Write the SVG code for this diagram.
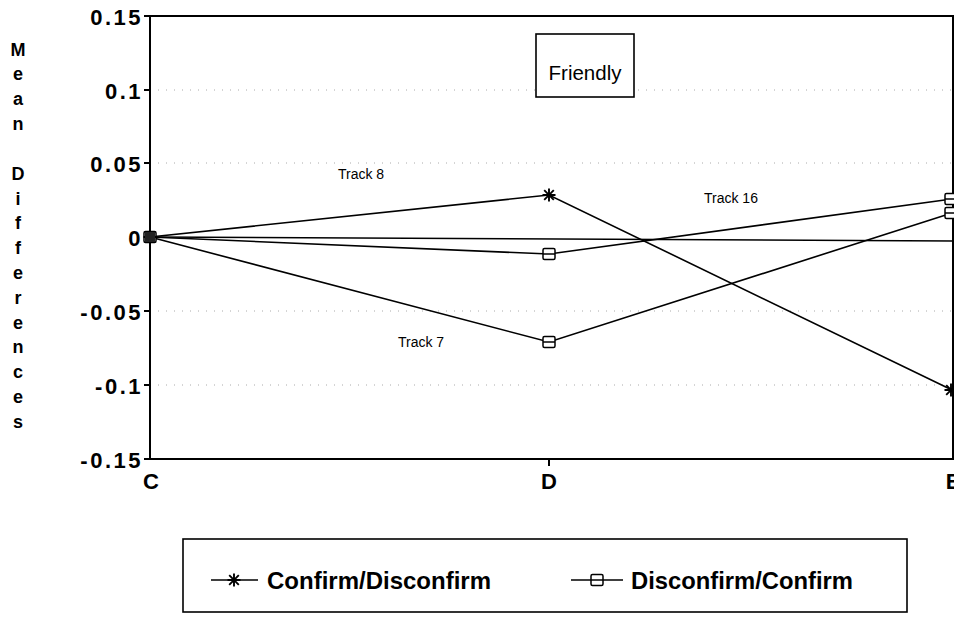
<svg xmlns="http://www.w3.org/2000/svg" width="954" height="617" viewBox="0 0 954 617">
<style>
.ax{fill:none;stroke:#000;stroke-width:2}
.grid{stroke:#aaa;stroke-width:1;stroke-dasharray:1 7}
.ln{fill:none;stroke:#000;stroke-width:1.6}
.tk{font-family:"Liberation Sans",Arial,sans-serif;font-weight:bold;font-size:22px;letter-spacing:2.5px;text-anchor:end}
.xl{font-family:"Liberation Sans",Arial,sans-serif;font-weight:bold;font-size:22px;text-anchor:middle}
.yt{font-family:"Liberation Sans",Arial,sans-serif;font-weight:bold;font-size:18px;text-anchor:middle}
.lbl{font-family:"Liberation Sans",Arial,sans-serif;font-size:14px}
.lg{font-family:"Liberation Sans",Arial,sans-serif;font-weight:bold;font-size:24px}
.sq{fill:#fff;stroke:#000;stroke-width:1.5}
</style>
<defs>
<g id="star"><path d="M-6.5,0H6.5M0,-6.5V6.5M-4.8,-4.8L4.8,4.8M-4.8,4.8L4.8,-4.8" stroke="#000" stroke-width="1.9" fill="none"/></g>
<g id="box"><rect x="-6" y="-5.5" width="12" height="11" rx="1.5" class="sq"/><path d="M-6,0H6" stroke="#000" stroke-width="1.5"/></g>
</defs>
<g id="grid">
<path class="grid" d="M150,90H953M150,163H953M150,311H953M150,385H953"/>
</g>
<g id="axes">
<path class="ax" d="M150,16H953V459H150Z"/>
<path class="ax" d="M144,16H150M144,90H150M144,163H150M144,237H150M144,311H150M144,385H150M144,459H150M549,459V466"/>
</g>
<g id="ticklabels">
<text class="tk" x="143" y="25">0.15</text>
<text class="tk" x="143" y="99">0.1</text>
<text class="tk" x="143" y="172">0.05</text>
<text class="tk" x="143" y="246">0</text>
<text class="tk" x="143" y="320">-0.05</text>
<text class="tk" x="143" y="394">-0.1</text>
<text class="tk" x="143" y="468">-0.15</text>
<text class="xl" x="151" y="489">C</text>
<text class="xl" x="549" y="489">D</text>
<text class="xl" x="953" y="489">E</text>
</g>
<g id="ytitle">
<text class="yt" x="18" y="56">M</text>
<text class="yt" x="18" y="80">e</text>
<text class="yt" x="18" y="105">a</text>
<text class="yt" x="18" y="130">n</text>
<text class="yt" x="18" y="180">D</text>
<text class="yt" x="18" y="205">i</text>
<text class="yt" x="18" y="229">f</text>
<text class="yt" x="18" y="254">f</text>
<text class="yt" x="18" y="279">e</text>
<text class="yt" x="18" y="304">r</text>
<text class="yt" x="18" y="329">e</text>
<text class="yt" x="18" y="353">n</text>
<text class="yt" x="18" y="378">c</text>
<text class="yt" x="18" y="403">e</text>
<text class="yt" x="18" y="428">s</text>
</g>
<g id="connectors">
<path class="ln" d="M150,237L953,241"/>
<path class="ln" d="M150,237L549,195L952,390"/>
<path class="ln" d="M150,237L549,254L952,199"/>
<path class="ln" d="M150,237L549,342L952,213"/>
</g>
<g id="markers">
<use href="#box" x="150" y="237"/>
<use href="#star" x="150" y="237"/>
<rect x="145" y="232" width="10" height="10" fill="#222"/>
<use href="#star" x="549" y="195"/>
<use href="#box" x="549" y="254"/>
<use href="#box" x="549" y="342"/>
<use href="#star" x="951" y="390"/>
<use href="#box" x="951" y="199"/>
<use href="#box" x="951" y="213"/>
</g>
<g id="track-labels">
<text class="lbl" x="338" y="179">Track 8</text>
<text class="lbl" x="704" y="203">Track 16</text>
<text class="lbl" x="398" y="347">Track 7</text>
</g>
<g id="title">
<rect x="536" y="34" width="98" height="63" fill="#fff" stroke="#000" stroke-width="1.6"/>
<text x="585" y="80" font-family="Liberation Sans, Arial, sans-serif" font-size="20.5" text-anchor="middle">Friendly</text>
</g>
<g id="legend">
<rect x="183" y="539" width="724" height="73" fill="#fff" stroke="#000" stroke-width="1.6"/>
<path class="ln" d="M211,580H258"/>
<use href="#star" x="234" y="580"/>
<text class="lg" x="267" y="589" textLength="224" lengthAdjust="spacingAndGlyphs">Confirm/Disconfirm</text>
<path class="ln" d="M571,580H623"/>
<use href="#box" x="597" y="580"/>
<text class="lg" x="631" y="589" textLength="222" lengthAdjust="spacingAndGlyphs">Disconfirm/Confirm</text>
</g>
</svg>
